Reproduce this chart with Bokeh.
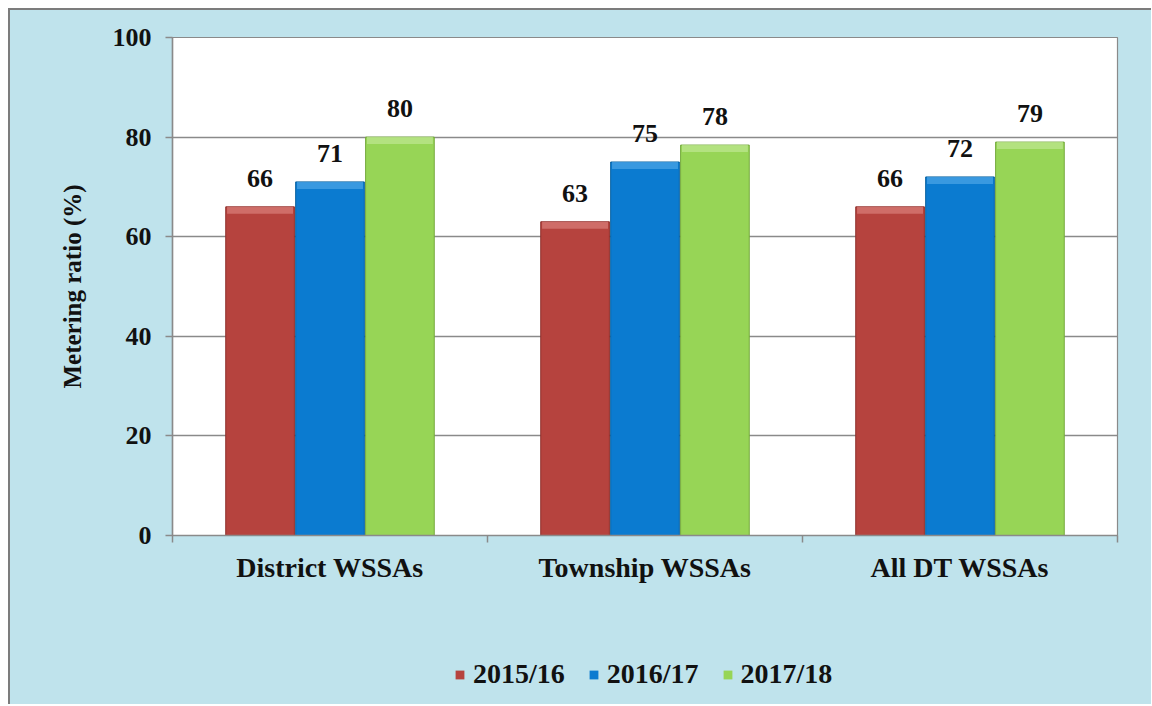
from bokeh.plotting import figure
from bokeh.layouts import column
from bokeh.models import (ColumnDataSource, Range1d, FixedTicker, Legend, LegendItem)
from bokeh.core.properties import value
from bokeh.embed import file_html
from bokeh.resources import INLINE

# ---- data ----
categories = ["District WSSAs", "Township WSSAs", "All DT WSSAs"]
years = ["2015/16", "2016/17", "2017/18"]
v2015 = [66, 63, 66]
v2016 = [71, 75, 72]
v2017 = [80, 78.4, 79]
y_ticks = [0, 20, 40, 60, 80, 100]

series = [v2015, v2016, v2017]
face = ["#b6433e", "#0b7bd0", "#97d556"]
edge = ["#8e302c", "#07609f", "#74a83d"]
bevel = ["#d77b77", "#4aa3e6", "#bce68f"]
offsets = [-0.222, 0.0, 0.222]
bar_w = 0.218
GRAY = "#8a8a8a"
TEXTURE = "#bfe3ec"
FONT = "Liberation Serif"

ncat = len(categories)
centers = [i + 0.5 for i in range(ncat)]

W = 1141
p = figure(width=W, height=610, output_backend="svg", toolbar_location=None,
           x_range=Range1d(0, ncat), y_range=Range1d(y_ticks[0], y_ticks[-1]),
           min_border_left=162, min_border_top=27, min_border_right=34,
           min_border_bottom=85)
p.background_fill_color = "white"
p.border_fill_color = TEXTURE
p.outline_line_color = GRAY
p.outline_line_width = 1.2

xa = p.xaxis[0]
xa.ticker = FixedTicker(ticks=centers, minor_ticks=list(range(ncat + 1)))
xa.major_label_overrides = {c: lab for c, lab in zip(centers, categories)}
xa.major_tick_line_color = None
xa.minor_tick_out = 7
xa.minor_tick_in = 0
xa.minor_tick_line_color = GRAY
xa.minor_tick_line_width = 1.5
xa.axis_line_color = GRAY
xa.axis_line_width = 1.5
xa.major_label_text_font = FONT
xa.major_label_text_font_style = "bold"
xa.major_label_text_font_size = "28px"
xa.major_label_text_color = "#111111"
xa.major_label_standoff = 9

ya = p.yaxis[0]
ya.ticker = FixedTicker(ticks=y_ticks, minor_ticks=[])
ya.major_tick_out = 7
ya.major_tick_in = 0
ya.major_tick_line_color = GRAY
ya.major_tick_line_width = 1.5
ya.axis_line_color = GRAY
ya.axis_line_width = 1.5
ya.major_label_text_font = FONT
ya.major_label_text_font_style = "bold"
ya.major_label_text_font_size = "26px"
ya.major_label_text_color = "#111111"
ya.major_label_standoff = 14
ya.axis_label = "Metering ratio (%)"
ya.axis_label_text_font = FONT
ya.axis_label_text_font_style = "bold"
ya.axis_label_text_font_size = "25px"
ya.axis_label_text_color = "#111111"
ya.axis_label_standoff = 24

p.xgrid.grid_line_color = None
p.ygrid.ticker = FixedTicker(ticks=y_ticks)
p.ygrid.grid_line_color = GRAY
p.ygrid.grid_line_width = 1.5

sources = []
for k, vals in enumerate(series):
    xs = [c + offsets[k] for c in centers]
    src = ColumnDataSource(dict(x=xs, top=vals,
                                bev=[v - 1.4 for v in vals],
                                lab=["%.0f" % v for v in vals]))
    sources.append(src)
    p.vbar(x="x", top="top", bottom=0, width=bar_w, source=src,
           fill_color=face[k], line_color=edge[k], line_width=1)
    p.vbar(x="x", top="top", bottom="bev", width=bar_w * 0.96, source=src,
           fill_color=bevel[k], fill_alpha=0.75, line_color=None)
    p.text(x="x", y="top", text="lab", source=src,
           text_font=value(FONT), text_font_style="bold",
           text_font_size="26px", text_color="#111111",
           text_align="center", text_baseline="bottom", y_offset=-20)

# ---- legend strip below the chart (same series, kept out of its view) ----
p2 = figure(width=W, height=84, output_backend="svg", toolbar_location=None,
            x_range=Range1d(100, 100 + ncat), y_range=Range1d(1000, 1001),
            x_axis_location=None, y_axis_location=None, min_border=0)
p2.background_fill_alpha = 0
p2.border_fill_color = TEXTURE
p2.outline_line_color = None
p2.grid.visible = False

keys = []
for k in range(len(years)):
    r = p2.vbar(x="x", top="top", bottom=0, width=bar_w, source=sources[k],
                fill_color=face[k], line_color=edge[k], line_alpha=0)
    keys.append(LegendItem(label=years[k], renderers=[r]))

legend = Legend(items=keys, orientation="horizontal", location=(282, 14))
legend.label_text_font = FONT
legend.label_text_font_style = "bold"
legend.label_text_font_size = "28px"
legend.label_text_color = "#111111"
legend.glyph_width = 11
legend.glyph_height = 11
legend.label_standoff = 8
legend.spacing = 23
legend.padding = 0
legend.margin = 0
legend.background_fill_alpha = 0
legend.border_line_color = None
p2.add_layout(legend, "center")

page = column(p, p2, spacing=0,
              styles={"margin-left": "8px", "margin-top": "8px",
                      "background-color": TEXTURE,
                      "border-left": "2px solid #7c7c7c", "border-top": "2px solid #7c7c7c"})

open("out.html", "w").write(file_html(page, INLINE))
